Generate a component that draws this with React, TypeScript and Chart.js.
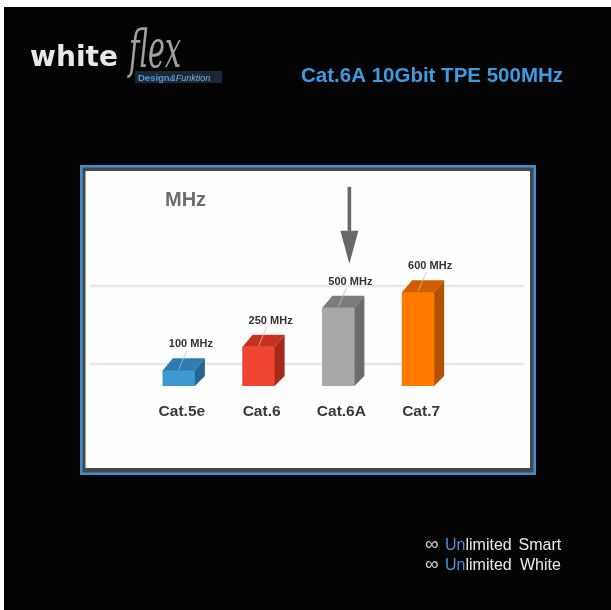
import React, { useEffect, useRef } from "react";
import { Chart, registerables } from "chart.js";

Chart.register(...registerables);

const CATEGORIES = ["Cat.5e", "Cat.6", "Cat.6A", "Cat.7"];
const VALUES_MHZ = [100, 250, 500, 600];
const VALUE_LABELS = ["100 MHz", "250 MHz", "500 MHz", "600 MHz"];
const FRONT_COLORS = ["#3c98ce", "#ee4631", "#a8a8a8", "#ff7b00"];
const TOP_COLORS = ["#2e7cb0", "#c8311e", "#7c7c7c", "#d25c00"];
const SIDE_COLORS = ["#246592", "#a8281a", "#6c6c6c", "#b55000"];
const GRID_VALUES = [140, 640];
const Y_MAX = 1200;
const HIGHLIGHT = "Cat.6A";
const TITLE = "Cat.6A 10Gbit TPE 500MHz";
const AXIS_UNIT = "MHz";
const FOOTER = ["Smart", "White"];

const W = 611;
const H = 610;
const DX = 10;
const DY = 12;
const FONT = '"Liberation Sans", Arial, sans-serif';

const decorPlugin = {
  id: "decor",
  beforeDraw(chart: any) {
    const ctx: CanvasRenderingContext2D = chart.ctx;
    ctx.save();
    ctx.fillStyle = "#ffffff";
    ctx.fillRect(0, 0, W, H);
    ctx.fillStyle = "#030303";
    ctx.fillRect(4, 7, W - 4, H - 7);

    // logo
    ctx.textBaseline = "alphabetic";
    ctx.fillStyle = "#e8e8e8";
    ctx.font = 'bold 28.5px "DejaVu Sans"';
    const ww = ctx.measureText("white").width;
    ctx.save();
    ctx.translate(30, 66);
    ctx.scale(88 / ww, 1);
    ctx.fillText("white", 0, 0);
    ctx.restore();
    ctx.save();
    ctx.font = 'italic 44px "DejaVu Serif"';
    const fw = ctx.measureText("flex").width;
    ctx.translate(129, 67);
    ctx.scale(52 / fw, 1.2);
    ctx.fillStyle = "#a0a0a0";
    ctx.fillText("flex", 0, 0);
    ctx.restore();
    ctx.fillStyle = "#1c2935";
    ctx.fillRect(135, 71, 87, 12);
    ctx.font = `bold 9.5px ${FONT}`;
    ctx.fillStyle = "#4d97de";
    ctx.fillText("Design", 138, 81);
    const dw = ctx.measureText("Design").width;
    ctx.font = `italic 9px ${FONT}`;
    ctx.fillStyle = "#76aee4";
    ctx.fillText("&Funktion", 138 + dw, 81);

    // title
    ctx.font = `bold 20.5px ${FONT}`;
    ctx.fillStyle = "#3d9be2";
    ctx.fillText(TITLE, 301, 82);

    // footer
    FOOTER.forEach((word, i) => {
      const by = 549.5 + i * 20.5;
      ctx.font = `19px ${FONT}`;
      ctx.fillStyle = "#d8d8d8";
      ctx.fillText("\u221e", 425, by);
      ctx.font = `16px ${FONT}`;
      ctx.fillStyle = "#4a92d4";
      ctx.fillText("Un", 445, by);
      const uw = ctx.measureText("Un").width;
      ctx.fillStyle = "#ececec";
      ctx.fillText("limited", 445 + uw, by);
      ctx.fillText(word, i === 0 ? 518.5 : 520, by);
    });

    // panel
    ctx.fillStyle = "#3a8fd6";
    ctx.fillRect(80, 165, 456, 310);
    ctx.fillStyle = "#474747";
    ctx.fillRect(82.5, 167.5, 451, 305);
    ctx.fillStyle = "#fefefe";
    ctx.fillRect(85.5, 171, 444.5, 297);

    // grid lines
    const ys = chart.scales.y;
    ctx.strokeStyle = "#e8e8e8";
    ctx.lineWidth = 2.5;
    GRID_VALUES.forEach((v) => {
      const py = ys.getPixelForValue(v);
      ctx.beginPath();
      ctx.moveTo(90, py);
      ctx.lineTo(524, py);
      ctx.stroke();
    });

    // unit title
    ctx.font = `bold 20px ${FONT}`;
    ctx.fillStyle = "#6d6d6d";
    ctx.fillText(AXIS_UNIT, 165, 206);
    ctx.restore();
  },
  afterDatasetsDraw(chart: any) {
    const ctx: CanvasRenderingContext2D = chart.ctx;
    const meta = chart.getDatasetMeta(0);
    ctx.save();
    meta.data.forEach((bar: any, i: number) => {
      const { x, y, base, width } = bar.getProps(["x", "y", "base", "width"], true);
      const l = x - width / 2;
      const r = x + width / 2;
      ctx.fillStyle = TOP_COLORS[i];
      ctx.beginPath();
      ctx.moveTo(l, y);
      ctx.lineTo(r, y);
      ctx.lineTo(r + DX, y - DY);
      ctx.lineTo(l + DX, y - DY);
      ctx.closePath();
      ctx.fill();
      ctx.fillStyle = SIDE_COLORS[i];
      ctx.beginPath();
      ctx.moveTo(r, y);
      ctx.lineTo(r + DX, y - DY);
      ctx.lineTo(r + DX, base - DY + 2);
      ctx.lineTo(r, base);
      ctx.closePath();
      ctx.fill();

      const lx = x + 12;
      const ly = y - DY - 14;
      ctx.strokeStyle = "rgba(190,190,190,0.8)";
      ctx.lineWidth = 1;
      ctx.beginPath();
      ctx.moveTo(lx - 4, ly + 6);
      ctx.lineTo(x, y - 1);
      ctx.stroke();
      ctx.font = `bold 11px ${FONT}`;
      ctx.fillStyle = "#333333";
      ctx.textAlign = "center";
      ctx.textBaseline = "middle";
      ctx.fillText(VALUE_LABELS[i], lx, ly);

      if (CATEGORIES[i] === HIGHLIGHT) {
        const ax = x + 11;
        const tip = ly - 18;
        const headTop = tip - 33;
        const top = tip - 77;
        ctx.fillStyle = "#686868";
        ctx.fillRect(ax - 1.8, top, 3.6, headTop - top + 1);
        ctx.beginPath();
        ctx.moveTo(ax - 9, headTop);
        ctx.lineTo(ax + 9, headTop);
        ctx.lineTo(ax, tip);
        ctx.closePath();
        ctx.fill();
      }
    });
    ctx.restore();
  },
};

export default function App() {
  const ref = useRef<HTMLCanvasElement>(null);
  useEffect(() => {
    if (!ref.current) return;
    const chart = new Chart(ref.current, {
      type: "bar",
      data: {
        labels: CATEGORIES,
        datasets: [
          {
            data: VALUES_MHZ,
            backgroundColor: FRONT_COLORS,
            borderWidth: 0,
            barThickness: 32,
          },
        ],
      },
      options: {
        responsive: false,
        animation: false,
        devicePixelRatio: 1,
        layout: { padding: { left: 139, right: 153, top: 198.5, bottom: 171.5 } },
        plugins: { legend: { display: false }, tooltip: { enabled: false } },
        scales: {
          x: {
            grid: { display: false, drawTicks: false },
            border: { display: false },
            ticks: {
              color: "#383838",
              font: { family: FONT, size: 15.5, weight: "bold" },
              padding: 17,
              labelOffset: 3,
            },
          },
          y: { display: false, min: 0, max: Y_MAX },
        },
      },
      plugins: [decorPlugin],
    });
    return () => chart.destroy();
  }, []);
  return (
    <div style={{ position: "fixed", left: 0, top: 0, width: W, height: H }}>
      <canvas ref={ref} width={W} height={H} style={{ display: "block" }} />
    </div>
  );
}
